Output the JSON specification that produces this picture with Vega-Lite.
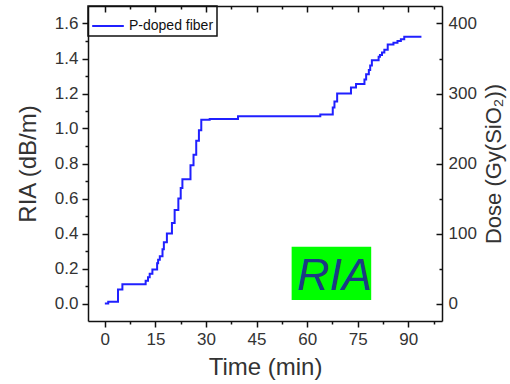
{
  "$schema": "https://vega.github.io/schema/vega-lite/v6.json",
  "width": 354,
  "height": 315,
  "autosize": {"type": "none"},
  "padding": {"left": 88, "top": 6, "right": 68, "bottom": 63},
  "background": "white",
  "config": {
    "view": {"stroke": null},
    "font": "Liberation Sans",
    "axis": {
      "labelFont": "Liberation Sans",
      "labelFontSize": 17,
      "labelColor": "#333333",
      "titleFont": "Liberation Sans",
      "titleFontSize": 24,
      "titleFontWeight": "normal",
      "titleColor": "#333333",
      "domainColor": "#111111",
      "domainWidth": 1.5,
      "tickColor": "#111111",
      "tickWidth": 1.5,
      "labelOverlap": false,
      "labelFlush": false,
      "grid": false
    },
    "legend": {
      "labelFont": "Liberation Sans",
      "labelFontSize": 14,
      "labelColor": "#111111",
      "strokeColor": "#111111",
      "strokeWidth": 1.5,
      "padding": 3,
      "offset": 0
    }
  },
  "datasets": {
    "ria": [
      {"time": 0, "ria": 0.0},
      {"time": 1, "ria": 0.01},
      {"time": 3.9, "ria": 0.08},
      {"time": 5.2, "ria": 0.11},
      {"time": 12.1, "ria": 0.13},
      {"time": 12.8, "ria": 0.15},
      {"time": 13.3, "ria": 0.17},
      {"time": 14.1, "ria": 0.195},
      {"time": 15.5, "ria": 0.23},
      {"time": 15.8, "ria": 0.25},
      {"time": 16.3, "ria": 0.27},
      {"time": 17.1, "ria": 0.31},
      {"time": 17.5, "ria": 0.35},
      {"time": 18.4, "ria": 0.40},
      {"time": 19.9, "ria": 0.46},
      {"time": 20.7, "ria": 0.535},
      {"time": 21.8, "ria": 0.60},
      {"time": 22.5, "ria": 0.66},
      {"time": 23.0, "ria": 0.71},
      {"time": 25.4, "ria": 0.79},
      {"time": 26.3, "ria": 0.85},
      {"time": 27.1, "ria": 0.93},
      {"time": 27.9, "ria": 0.99},
      {"time": 28.6, "ria": 1.05},
      {"time": 31.1, "ria": 1.055},
      {"time": 39.5, "ria": 1.07},
      {"time": 63.9, "ria": 1.08},
      {"time": 67.6, "ria": 1.12},
      {"time": 68.1, "ria": 1.155},
      {"time": 68.9, "ria": 1.20},
      {"time": 73.0, "ria": 1.235},
      {"time": 74.5, "ria": 1.255},
      {"time": 77.0, "ria": 1.28},
      {"time": 77.5, "ria": 1.31},
      {"time": 78.3, "ria": 1.335},
      {"time": 78.7, "ria": 1.36},
      {"time": 79.2, "ria": 1.39},
      {"time": 81.2, "ria": 1.41},
      {"time": 81.6, "ria": 1.42},
      {"time": 82.2, "ria": 1.435},
      {"time": 82.9, "ria": 1.45},
      {"time": 83.9, "ria": 1.48},
      {"time": 85.6, "ria": 1.49},
      {"time": 86.8, "ria": 1.50},
      {"time": 87.8, "ria": 1.51},
      {"time": 88.8, "ria": 1.525},
      {"time": 93.9, "ria": 1.525}
    ],
    "box": [{"time": 55.4, "time2": 79.0, "ria": 0.02, "ria2": 0.325}],
    "label": [{"time": 68.1, "ria": 0.076, "text": "RIA"}],
    "dose": [{"dose": 0}, {"dose": 400}]
  },
  "layer": [
    {
      "layer": [
        {
          "data": {"name": "ria"},
          "mark": {"type": "line", "interpolate": "step-after", "strokeWidth": 2},
          "encoding": {
            "x": {
              "field": "time", "type": "quantitative",
              "scale": {"domain": [-5, 100], "nice": false, "zero": false},
              "axis": {
                "orient": "bottom",
                "title": "Time (min)",
                "values": [0, 15, 30, 45, 60, 75, 90],
                "tickSize": 6,
                "labelPadding": 4,
                "titlePadding": 8
              }
            },
            "y": {
              "field": "ria", "type": "quantitative",
              "scale": {"domain": [-0.1, 1.7], "nice": false, "zero": false},
              "axis": {
                "orient": "left",
                "title": "RIA (dB/m)",
                "values": [0, 0.2, 0.4, 0.6, 0.8, 1.0, 1.2, 1.4, 1.6],
                "format": ".1f",
                "tickSize": 6,
                "labelPadding": 4,
                "titlePadding": 14
              }
            },
            "color": {
              "datum": "P-doped fiber",
              "type": "nominal",
              "scale": {"range": ["#2020ff"]},
              "legend": {
                "title": null,
                "orient": "top-left",
                "symbolType": "stroke",
                "symbolSize": 1000,
                "symbolStrokeWidth": 2,
                "labelOffset": 4
              }
            }
          }
        },
        {
          "data": {"name": "ria"},
          "mark": {"type": "point", "opacity": 0},
          "encoding": {
            "x": {
              "field": "time", "type": "quantitative",
              "scale": {"domain": [-5, 100], "nice": false, "zero": false},
              "axis": {
                "orient": "bottom", "title": null, "labels": false, "domain": false,
                "values": [7.5, 22.5, 37.5, 52.5, 67.5, 82.5, 97.5],
                "tickSize": 3
              }
            },
            "y": {
              "field": "ria", "type": "quantitative",
              "scale": {"domain": [-0.1, 1.7], "nice": false, "zero": false},
              "axis": {
                "orient": "left", "title": null, "labels": false, "domain": false,
                "values": [0.1, 0.3, 0.5, 0.7, 0.9, 1.1, 1.3, 1.5],
                "tickSize": 3
              }
            }
          }
        },
        {
          "data": {"name": "ria"},
          "mark": {"type": "point", "opacity": 0},
          "encoding": {
            "x": {
              "field": "time", "type": "quantitative",
              "scale": {"domain": [-5, 100], "nice": false, "zero": false},
              "axis": {
                "orient": "bottom", "offset": -315, "title": null, "labels": false,
                "values": [0, 15, 30, 45, 60, 75, 90],
                "tickSize": 6
              }
            },
            "y": {
              "field": "ria", "type": "quantitative",
              "scale": {"domain": [-0.1, 1.7], "nice": false, "zero": false},
              "axis": {
                "orient": "left", "offset": -354, "title": null, "labels": false,
                "values": [0, 0.4, 0.8, 1.2, 1.6],
                "tickSize": 6
              }
            }
          }
        },
        {
          "data": {"name": "ria"},
          "mark": {"type": "point", "opacity": 0},
          "encoding": {
            "x": {
              "field": "time", "type": "quantitative",
              "scale": {"domain": [-5, 100], "nice": false, "zero": false},
              "axis": {
                "orient": "bottom", "offset": -315, "title": null, "labels": false, "domain": false,
                "values": [7.5, 22.5, 37.5, 52.5, 67.5, 82.5, 97.5],
                "tickSize": 3
              }
            },
            "y": {
              "field": "ria", "type": "quantitative",
              "scale": {"domain": [-0.1, 1.7], "nice": false, "zero": false},
              "axis": {
                "orient": "left", "offset": -354, "title": null, "labels": false, "domain": false,
                "values": [0.2, 0.6, 1.0, 1.4],
                "tickSize": 3
              }
            }
          }
        },
        {
          "data": {"name": "box"},
          "mark": {"type": "rect", "color": "#00ff00"},
          "encoding": {
            "x": {"field": "time", "type": "quantitative", "scale": {"domain": [-5, 100], "nice": false, "zero": false}, "axis": null},
            "x2": {"field": "time2"},
            "y": {"field": "ria", "type": "quantitative", "scale": {"domain": [-0.1, 1.7], "nice": false, "zero": false}, "axis": null},
            "y2": {"field": "ria2"}
          }
        },
        {
          "data": {"name": "label"},
          "mark": {"type": "text", "font": "Liberation Sans", "fontStyle": "italic", "fontSize": 45, "color": "#1c3a85", "align": "center", "baseline": "alphabetic"},
          "encoding": {
            "x": {"field": "time", "type": "quantitative", "scale": {"domain": [-5, 100], "nice": false, "zero": false}, "axis": null},
            "y": {"field": "ria", "type": "quantitative", "scale": {"domain": [-0.1, 1.7], "nice": false, "zero": false}, "axis": null},
            "text": {"field": "text"}
          }
        }
      ],
      "resolve": {"axis": {"x": "independent", "y": "independent"}}
    },
    {
      "data": {"name": "dose"},
      "mark": {"type": "point", "opacity": 0},
      "encoding": {
        "y": {
          "field": "dose", "type": "quantitative",
          "scale": {"domain": [-25, 425], "nice": false, "zero": false},
          "axis": {
            "orient": "right",
            "title": "Dose (Gy(SiO₂))",
            "titleFontSize": 22,
            "titleAngle": 270,
            "titleBaseline": "top",
            "values": [0, 100, 200, 300, 400],
            "ticks": false,
            "domain": false,
            "labelPadding": 6,
            "titlePadding": 7
          }
        }
      }
    }
  ],
  "resolve": {
    "scale": {"y": "independent"},
    "axis": {"y": "independent"}
  }
}
